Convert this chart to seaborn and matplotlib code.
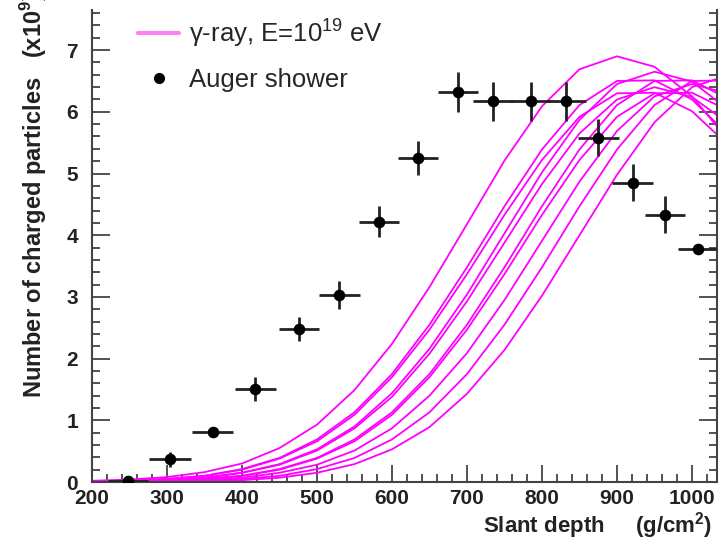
import numpy as np
import pandas as pd
import matplotlib
matplotlib.use('Agg')
import matplotlib.pyplot as plt
import seaborn as sns
from matplotlib.lines import Line2D
from matplotlib.ticker import MultipleLocator

# --- data ---
depth_grid = [200, 250, 300, 350, 400, 450, 500, 550, 600, 650,
              700, 750, 800, 850, 900, 950, 1000, 1050]

# gamma-ray simulated profiles (x10^9 particles) on depth_grid
gamma_01 = [0.02, 0.04, 0.08, 0.16, 0.30, 0.55, 0.93, 1.49, 2.24, 3.16, 4.18, 5.21, 6.09, 6.69, 6.90, 6.73, 6.25, 5.52]
gamma_02 = [0.01, 0.02, 0.05, 0.10, 0.20, 0.38, 0.66, 1.09, 1.70, 2.47, 3.37, 4.33, 5.22, 5.92, 6.30, 6.31, 6.01, 5.44]
gamma_03 = [0.01, 0.02, 0.05, 0.10, 0.21, 0.39, 0.69, 1.13, 1.75, 2.55, 3.48, 4.47, 5.39, 6.11, 6.50, 6.51, 6.20, 5.61]
gamma_04 = [0.01, 0.01, 0.03, 0.07, 0.15, 0.29, 0.53, 0.90, 1.44, 2.16, 3.04, 4.03, 5.02, 5.87, 6.45, 6.65, 6.49, 6.02]
gamma_05 = [0.01, 0.01, 0.03, 0.07, 0.15, 0.28, 0.51, 0.87, 1.38, 2.08, 2.93, 3.88, 4.83, 5.65, 6.20, 6.40, 6.24, 5.80]
gamma_06 = [0.00, 0.01, 0.02, 0.05, 0.10, 0.21, 0.39, 0.69, 1.13, 1.75, 2.55, 3.48, 4.47, 5.39, 6.11, 6.50, 6.51, 6.20]
gamma_07 = [0.00, 0.01, 0.02, 0.05, 0.10, 0.20, 0.38, 0.66, 1.09, 1.70, 2.47, 3.37, 4.33, 5.22, 5.92, 6.30, 6.31, 6.01]
gamma_08 = [0.00, 0.01, 0.01, 0.03, 0.07, 0.15, 0.28, 0.51, 0.87, 1.40, 2.09, 2.95, 3.91, 4.87, 5.69, 6.25, 6.45, 6.29]
gamma_09 = [0.00, 0.00, 0.01, 0.02, 0.05, 0.10, 0.21, 0.39, 0.69, 1.13, 1.75, 2.55, 3.48, 4.47, 5.39, 6.11, 6.50, 6.51]
gamma_10 = [0.00, 0.00, 0.01, 0.01, 0.03, 0.07, 0.15, 0.29, 0.53, 0.89, 1.43, 2.14, 3.02, 4.00, 4.98, 5.83, 6.40, 6.60]

# Auger shower measurement
auger_depth = [248, 304, 361, 418, 476, 530, 583, 635, 688, 735, 785, 832, 875, 921, 964, 1008]
auger_n     = [0.02, 0.37, 0.81, 1.51, 2.48, 3.03, 4.22, 5.25, 6.32, 6.17, 6.17, 6.17, 5.58, 4.85, 4.33, 3.77]
auger_xerr  = [27, 28, 27, 27, 27, 27, 27, 27, 27, 27, 27, 27, 27, 27, 27, 27]
auger_yerr  = [0.03, 0.12, 0.06, 0.20, 0.20, 0.23, 0.25, 0.27, 0.33, 0.32, 0.32, 0.32, 0.30, 0.30, 0.30, 0.05]

gammas = [gamma_01, gamma_02, gamma_03, gamma_04, gamma_05,
          gamma_06, gamma_07, gamma_08, gamma_09, gamma_10]
gamma_df = pd.concat([
    pd.DataFrame({'depth': depth_grid, 'n': g, 'curve': i})
    for i, g in enumerate(gammas)
], ignore_index=True)
auger_df = pd.DataFrame({'depth': auger_depth, 'n': auger_n})

# --- style ---
sns.set_theme(style='ticks')
plt.rcParams['font.family'] = ['Liberation Sans', 'DejaVu Sans']
plt.rcParams['mathtext.fontset'] = 'custom'
plt.rcParams['mathtext.rm'] = 'Liberation Sans'
plt.rcParams['mathtext.bf'] = 'Liberation Sans:bold'

fig = plt.figure(figsize=(7.24, 5.41), dpi=100)
ax = fig.add_axes([0.127, 0.109, 0.863, 0.8725])

sns.lineplot(data=gamma_df, x='depth', y='n', units='curve', estimator=None,
             color='#ff00ff', lw=1.3, ax=ax, legend=False, sort=False)

ax.errorbar(auger_depth, auger_n, xerr=auger_xerr, yerr=auger_yerr,
            fmt='none', ecolor='#222222', elinewidth=2.0, capsize=0, zorder=3)
sns.scatterplot(data=auger_df, x='depth', y='n', color='black', s=70,
                edgecolor='black', linewidth=0, zorder=4, ax=ax, legend=False)

ax.set_xlim(200, 1033)
ax.set_ylim(0, 7.65)
ax.set_xlabel('')
ax.set_ylabel('')

ax.xaxis.set_major_locator(MultipleLocator(100))
ax.xaxis.set_minor_locator(MultipleLocator(20))
ax.yaxis.set_major_locator(MultipleLocator(1))
ax.yaxis.set_minor_locator(MultipleLocator(0.2))

ax.spines['top'].set_visible(False)
for s in ['left', 'right', 'bottom']:
    ax.spines[s].set_color('#444444')
    ax.spines[s].set_linewidth(1.5)

ax.tick_params(axis='both', which='both', direction='in', color='#444444', width=1.3)
ax.tick_params(axis='y', which='both', left=True, right=True)
ax.tick_params(axis='x', which='both', top=False)
ax.tick_params(axis='y', which='major', length=13, pad=10)
ax.tick_params(axis='y', which='minor', length=6)
ax.tick_params(axis='x', which='major', length=12, pad=5)
ax.tick_params(axis='x', which='minor', length=6)
for lab in ax.get_xticklabels() + ax.get_yticklabels():
    lab.set_fontsize(15)
    lab.set_fontweight('bold')
    lab.set_color('#222222')

fig.text(0.983, 0.015, 'Slant depth     (g/cm$^\\mathbf{2}$)', ha='right', va='baseline',
         fontsize=16, fontweight='bold', color='#222222')
fig.text(0.046, 0.264, 'Number of charged particles   (x10$^\\mathbf{9}$)', rotation=90,
         ha='center', va='bottom', fontsize=17, fontweight='bold', color='#222222')

handles = [Line2D([], [], color='#ff80f0', lw=3),
           Line2D([], [], color='black', marker='o', ls='none', markersize=7)]
ax.legend(handles, ['γ-ray, E=10$^{19}$ eV', 'Auger shower'],
          loc='upper left', bbox_to_anchor=(0.045, 1.025), frameon=False,
          fontsize=18.5, handlelength=1.6, handletextpad=0.4,
          labelspacing=0.75, borderaxespad=0.3)

fig.savefig('out.png', dpi=100)
